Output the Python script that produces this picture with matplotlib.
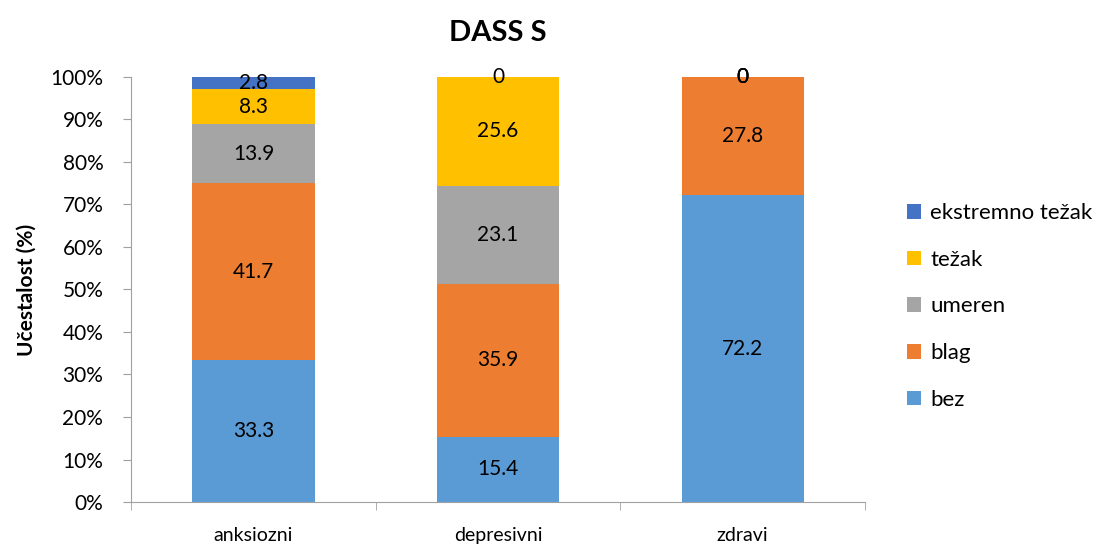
import matplotlib.pyplot as plt
from matplotlib.ticker import PercentFormatter
import numpy as np

plt.rcParams["font.family"] = ["Lato", "DejaVu Sans"]
plt.rcParams["font.size"] = 14

groups = ["anksiozni", "depresivni", "zdravi"]
levels = ["bez", "blag", "umeren", "težak", "ekstremno težak"]
colors = ["#5B9BD5", "#ED7D31", "#A5A5A5", "#FFC000", "#4472C4"]

bez = [33.3, 15.4, 72.2]
blag = [41.7, 35.9, 27.8]
umeren = [13.9, 23.1, 0]
tezak = [8.3, 25.6, 0]
ekstremno = [2.8, 0, 0]
series = [bez, blag, umeren, tezak, ekstremno]

fig = plt.figure(figsize=(11.11, 5.44), dpi=100)
ax = fig.add_axes([0.118, 0.0772, 0.6606, 0.7813])

x = np.arange(len(groups))
bottom = np.zeros(len(groups))
handles = []
for name, vals, c in zip(levels, series, colors):
    vals = np.array(vals, dtype=float)
    bars = ax.bar(x, vals, 0.5, bottom=bottom, color=c, label=name)
    handles.append(bars)
    # value label in the middle of every segment (zero segments sit on top)
    for xi, b, v in zip(x, bottom, vals):
        ax.text(xi, b + v / 2, f"{v:g}", ha="center", va="center", fontsize=15)
    bottom += vals

ax.set_xlim(-0.5, 2.5)
ax.set_ylim(0, 100)
ax.set_yticks(np.arange(0, 101, 10))
ax.yaxis.set_major_formatter(PercentFormatter(decimals=0))
ax.set_xticks(x)
ax.set_xticklabels(groups)
ax.set_xticks([-0.5, 0.5, 1.5, 2.5], minor=True)
ax.tick_params(axis="x", which="major", length=0, pad=18, labelsize=14)
ax.tick_params(axis="x", which="minor", length=6, color="#A0A0A0")
ax.tick_params(axis="y", length=6, color="#A0A0A0", labelsize=15, pad=14)

for s in ["top", "right"]:
    ax.spines[s].set_visible(False)
for s in ["left", "bottom"]:
    ax.spines[s].set_color("#A0A0A0")

ax.set_ylabel("Učestalost (%)", fontweight="bold", fontsize=15, labelpad=10)
ax.set_title("DASS S", fontweight="bold", fontsize=21, pad=26)

ax.legend(handles[::-1], levels[::-1], loc="center left", bbox_to_anchor=(1.03, 0.46),
          frameon=False, fontsize=16, handlelength=0.65, handleheight=0.65,
          handletextpad=0.4, labelspacing=1.2)

fig.savefig("out.png", dpi=100)
